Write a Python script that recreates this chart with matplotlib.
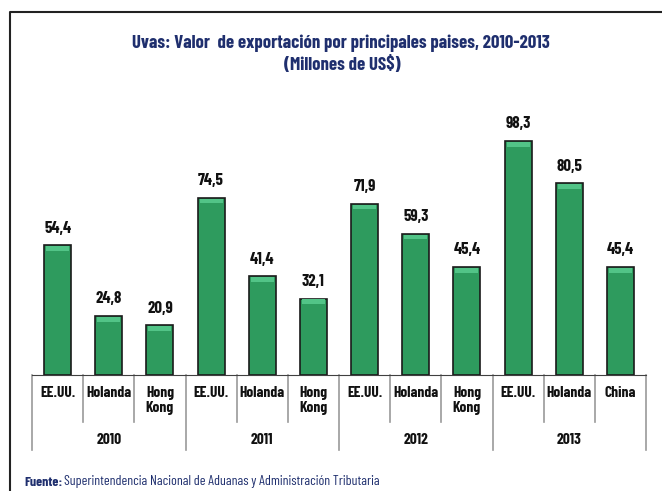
import matplotlib.pyplot as plt
from matplotlib import font_manager
from matplotlib.lines import Line2D
from matplotlib.transforms import blended_transform_factory

# data
years = ["2010", "2011", "2012", "2013"]
countries = ["EE.UU.", "Holanda", "Hong\nKong",
             "EE.UU.", "Holanda", "Hong\nKong",
             "EE.UU.", "Holanda", "Hong\nKong",
             "EE.UU.", "Holanda", "China"]
values = [54.4, 24.8, 20.9,
          74.5, 41.4, 32.1,
          71.9, 59.3, 45.4,
          98.3, 80.5, 45.4]
bars_per_year = 3

# pick a condensed font that is actually there
names = {f.name for f in font_manager.fontManager.ttflist}
fam = next((n for n in ["Barlow Condensed", "PT Sans Narrow", "Liberation Sans Narrow",
                        "Roboto Condensed"] if n in names), "Liberation Sans")
plt.rcParams['font.family'] = [fam, 'DejaVu Sans']

W, H = 662, 491
fig = plt.figure(figsize=(W / 100, H / 100), dpi=100)
renderer = fig.canvas.get_renderer()


def fit(t, target_px):
    # shrink/grow a text so its width matches the reference
    w = t.get_window_extent(renderer).width
    t.set_fontsize(t.get_fontsize() * target_px / w)
    return t


# axes placed in pixel terms: baseline at y=375, x from 32 to 646
ax = fig.add_axes([32 / W, (H - 375) / H, (646 - 32) / W, 262 / H])
x = list(range(len(values)))
ax.bar(x, values, width=0.53, color="#2E9B5E", edgecolor="#1a1a1a", linewidth=1.2, zorder=2)
# light bevel along the top of each bar
bevel = 2.0
ax.bar(x, [bevel] * len(values), bottom=[v - bevel - 0.4 for v in values], width=0.45,
       color="#52C487", linewidth=0, zorder=3)
ax.set_xlim(-0.5, len(values) - 0.5)
ax.set_ylim(0, 110)
for s in ["top", "right", "left"]:
    ax.spines[s].set_visible(False)
ax.spines["bottom"].set_color("#404040")
ax.set_yticks([])
ax.set_xticks([])

# value labels, size taken from "54,4" ~ 27px wide
probe = fig.text(0, 0, "54,4", fontsize=13, fontweight="bold")
fit(probe, 27)
val_size = probe.get_fontsize()
probe.remove()
for xi, v in zip(x, values):
    ax.text(xi, v + 4, f"{v:.1f}".replace(".", ","), ha="center", va="bottom",
            fontsize=val_size, fontweight="bold", color="#111111")

# category labels, size taken from "Holanda" ~ 45px wide
probe = fig.text(0, 0, "Holanda", fontsize=10, fontweight="bold")
fit(probe, 45)
cat_size = probe.get_fontsize()
probe.remove()

tr = blended_transform_factory(ax.transData, ax.transAxes)
px = 1 / 262  # one pixel in axes-y units
for xi, lab in zip(x, countries):
    ax.text(xi, -11 * px, lab, ha="center", va="top", transform=tr,
            fontsize=cat_size, fontweight="bold", color="#111111", linespacing=1.05)
for i in range(len(values) + 1):
    b = i - 0.5
    bottom = -75 * px if i % bars_per_year == 0 else -47 * px
    ax.add_line(Line2D([b, b], [0, bottom], transform=tr, color="#9a9a9a",
                       linewidth=1.2, clip_on=False))
for j, yr in enumerate(years):
    xc = j * bars_per_year + (bars_per_year - 1) / 2
    ax.text(xc, -65 * px, yr, ha="center", va="center", transform=tr,
            fontsize=cat_size, fontweight="bold", color="#111111")

# title
navy = "#1F2F6E"
t1 = fig.text(340.5 / W, 1 - 48 / H, "Uvas: Valor  de exportación por principales paises, 2010-2013",
              ha="center", va="baseline", fontsize=15, fontweight="bold", color=navy)
fit(t1, 417)
fig.text(342 / W, 1 - 70 / H, "(Millones de US$)",
         ha="center", va="baseline", fontsize=t1.get_fontsize(), fontweight="bold", color=navy)

# source note
t = fig.text(24 / W, 1 - 482 / H, "Fuente:", ha="left", va="center",
             fontsize=10.5, fontweight="bold", color=navy)
rest = fig.text(0, 1 - 482 / H,
                "Superintendencia Nacional de Aduanas y Administración Tributaria",
                ha="left", va="center", fontsize=10.5, color=navy)
fit(rest, 318)
t.set_fontsize(rest.get_fontsize())
bb = t.get_window_extent(renderer)
rest.set_x((bb.x1 + 2) / W)

# slide frame
fig.add_artist(Line2D([10 / W, 10 / W, 1], [0, 1 - 12 / H, 1 - 12 / H],
                      transform=fig.transFigure, color="#222222", linewidth=1.5))

fig.savefig("out.png", dpi=100)
